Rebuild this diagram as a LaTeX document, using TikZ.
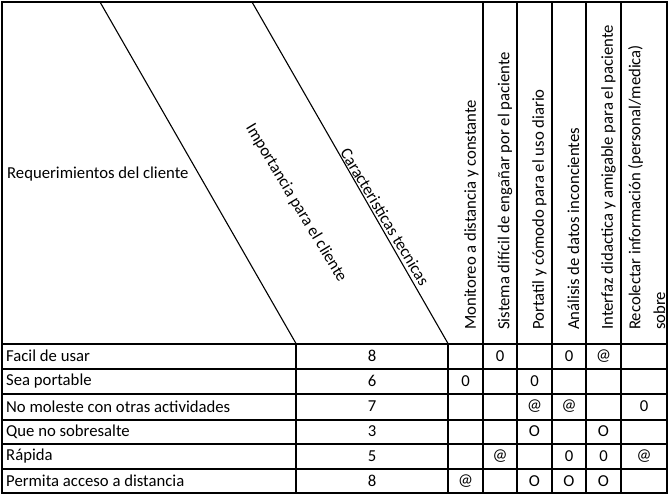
\documentclass[tikz,border=0pt]{standalone}
\usepackage{fontspec}
\setmainfont{Carlito}
\begin{document}
\begin{tikzpicture}[x=1pt,y=-1pt,
  thick line/.style={line width=2pt, line cap=rect},
  thin line/.style={line width=1.1pt},
  cell/.style={inner sep=0pt, font=\fontsize{16.7}{19}\selectfont},
  label/.style={cell, anchor=west},
  vlabel/.style={cell, rotate=90, anchor=west},
  slabel/.style={cell, rotate=-59}]
\useasboundingbox (0,0) rectangle (671,498);
% outer frame
\draw[thick line] (2,2) rectangle (667,493);
% header bottom and row lines
\foreach \y in {343.5,368.5,394,419.5,444,469} \draw[thick line] (2,\y) -- (667,\y);
% column lines
\draw[thick line] (296,343.5) -- (296,493);
\draw[thick line] (448,343.5) -- (448,493);
\foreach \x in {483,517,552,586,621} \draw[thick line] (\x,2) -- (\x,493);
% slanted header lines
\coordinate (s1a) at (100,2); \coordinate (s1b) at (296,343.5);
\coordinate (s2a) at (252,2); \coordinate (s2b) at (448,343.5);
\draw[thin line] (s1a) -- (s1b);
\draw[thin line] (s2a) -- (s2b);
% header texts
\node[label] (req) at (7,174) {Requerimientos del cliente};
\node[slabel] (imp) at (296,203) {Importancia para el cliente};
\node[slabel] (car) at (385,217) {Caracteristicas tecnicas};
\node[vlabel] (h1) at (471.5,330) {Monitoreo a distancia y constante};
\node[vlabel] (h2) at (505,330) {Sistema difícil de engañar por el paciente};
\node[vlabel] (h3) at (539.5,330) {Portatil y cómodo para el uso diario};
\node[vlabel] (h4) at (573.5,330) {Análisis de datos inconcientes};
\node[vlabel] (h5) at (608.5,330) {Interfaz didactica y amigable para el paciente};
\node[vlabel] (h6) at (635.5,330) {Recolectar información (personal/medica)};
\node[vlabel] (h6b) at (659.5,330) {sobre};
% rows
\foreach \t/\v/\y [count=\i] in {Facil de usar/8/356, Sea portable/6/381, No moleste con otras actividades/7/406.5, Que no sobresalte/3/431.5, Rápida/5/456, Permita acceso a distancia/8/481}{
  \node[label] (r\i) at (6,\y) {\t};
  \node[cell] (w\i) at (372,\y) {\v};
}
% matrix symbols
\node[cell] (m14) at (500,356) {0};
\node[cell] (m16) at (569,356) {0};
\node[cell] (m17) at (603.5,356) {@};
\node[cell] (m21) at (465.5,381) {0};
\node[cell] (m23) at (534.5,381) {0};
\node[cell] (m33) at (534.5,406.5) {@};
\node[cell] (m34) at (569,406.5) {@};
\node[cell] (m36) at (644,406.5) {0};
\node[cell] (m43) at (534.5,431.5) {O};
\node[cell] (m45) at (603.5,431.5) {O};
\node[cell] (m52) at (500,456) {@};
\node[cell] (m54) at (569,456) {0};
\node[cell] (m55) at (603.5,456) {0};
\node[cell] (m56) at (644,456) {@};
\node[cell] (m61) at (465.5,481) {@};
\node[cell] (m63) at (534.5,481) {O};
\node[cell] (m64) at (569,481) {O};
\node[cell] (m65) at (603.5,481) {O};
\end{tikzpicture}
\end{document}
